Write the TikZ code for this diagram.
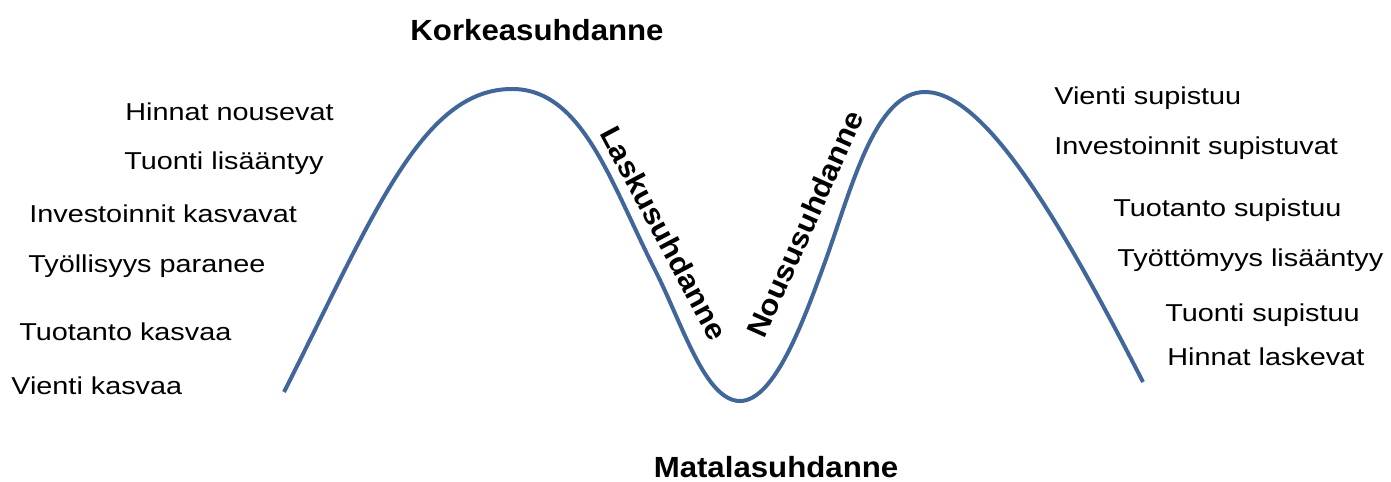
\documentclass[tikz,border=0pt]{standalone}
\usepackage{fontspec}
\setmainfont{Liberation Sans}
\newfontfamily\labelfont[FakeStretch=1.18]{Liberation Sans}
\newfontfamily\phasefont[FakeStretch=1.07]{Liberation Sans}
\usepackage{tikz}
\usetikzlibrary{positioning}
\definecolor{CurveBlue}{RGB}{65, 102, 154}
\definecolor{TextBlack}{RGB}{0, 0, 0}
\tikzset{
  lbl/.style={anchor=base west, inner sep=0pt, text=TextBlack,
    font=\labelfont\fontsize{13.9}{16}\selectfont},
  phase/.style={inner sep=0pt, text=TextBlack,
    font=\phasefont\bfseries\fontsize{16.6}{19}\selectfont},
  curve/.style={draw=CurveBlue, line width=0.08cm},
}
\begin{document}
\begin{tikzpicture}[x=0.02cm, y=-0.02cm]
  \useasboundingbox (0,0) rectangle (1391,482);
  % business cycle wave
  \coordinate (start) at (284,392);
  \coordinate (top1) at (512,89);
  \coordinate (fall) at (655,270);
  \coordinate (bottom) at (740,401);
  \coordinate (rise) at (825,262);
  \coordinate (top2) at (925,92);
  \coordinate (end) at (1143,382);
  \draw[curve] (start) .. controls (374,214) and (422,89) .. (top1)
    .. controls (582,89) and (610,181) .. (fall)
    .. controls (682,323) and (705,401) .. (bottom)
    .. controls (775,401) and (804.5,318) .. (rise)
    .. controls (852,187) and (875,92) .. (top2)
    .. controls (985,92) and (1061,222) .. (end);
  % phases
  \node[phase, anchor=base] (peak) at (537,41) {Korkeasuhdanne};
  \node[phase, anchor=base] (trough) at (776,477) {Matalasuhdanne};
  \node[phase, rotate=-62] (down) at (664,233) {Laskusuhdanne};
  \node[phase, rotate=66] (up) at (805,224) {Noususuhdanne};
  % boom side
  \node[lbl] (l1) at (125,121) {Hinnat nousevat};
  \node[lbl] (l2) at (124,170) {Tuonti lisääntyy};
  \node[lbl] (l3) at (29,223) {Investoinnit kasvavat};
  \node[lbl] (l4) at (28,273) {Työllisyys paranee};
  \node[lbl] (l5) at (19,340) {Tuotanto kasvaa};
  \node[lbl] (l6) at (11,395) {Vienti kasvaa};
  % slump side
  \node[lbl] (r1) at (1054,105) {Vienti supistuu};
  \node[lbl] (r2) at (1054,155) {Investoinnit supistuvat};
  \node[lbl] (r3) at (1113,217) {Tuotanto supistuu};
  \node[lbl] (r4) at (1117,267) {Työttömyys lisääntyy};
  \node[lbl] (r5) at (1165,322) {Tuonti supistuu};
  \node[lbl] (r6) at (1167,365) {Hinnat laskevat};
\end{tikzpicture}
\end{document}
